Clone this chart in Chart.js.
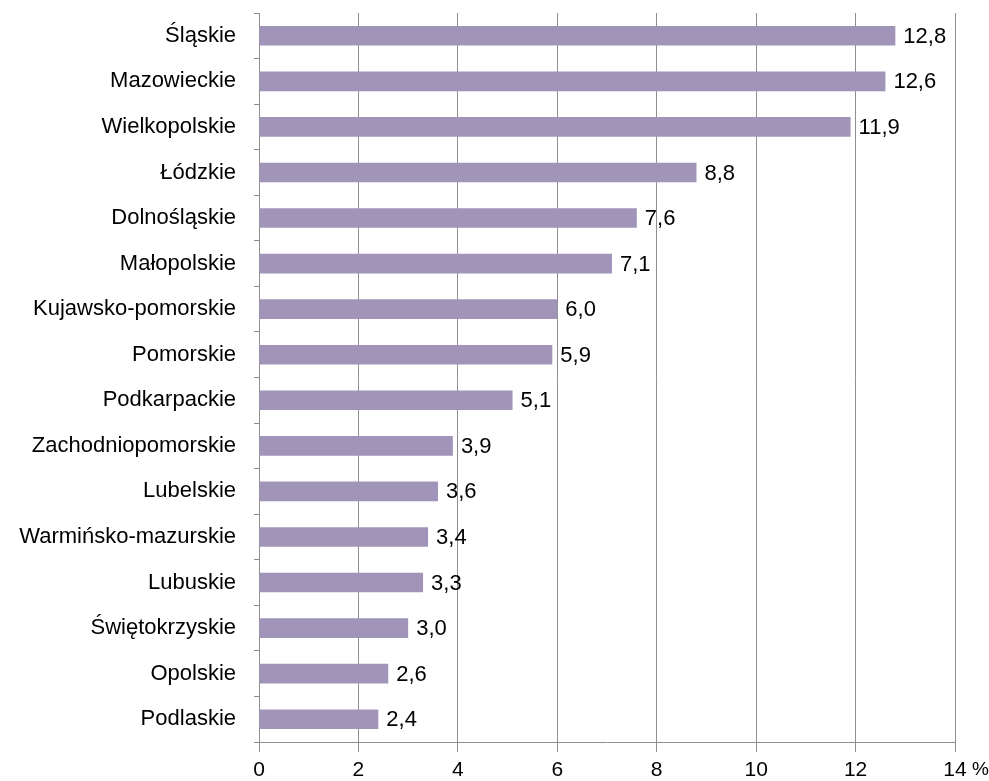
<!DOCTYPE html>
<html>
<head>
<meta charset="utf-8">
<script src="https://cdn.jsdelivr.net/npm/chart.js@4/dist/chart.umd.min.js"></script>
<style>
  html, body { margin: 0; padding: 0; background: #fff; }
  #wrap { width: 989px; height: 781px; }
</style>
</head>
<body>
<div id="wrap"><canvas id="grafico" width="989" height="781"></canvas></div>
<script>
const wojewodztwa = [
  "Śląskie", "Mazowieckie", "Wielkopolskie", "Łódzkie", "Dolnośląskie",
  "Małopolskie", "Kujawsko-pomorskie", "Pomorskie", "Podkarpackie",
  "Zachodniopomorskie", "Lubelskie", "Warmińsko-mazurskie", "Lubuskie",
  "Świętokrzyskie", "Opolskie", "Podlaskie"
];
const udzialy = [12.8, 12.6, 11.9, 8.8, 7.6, 7.1, 6.0, 5.9, 5.1, 3.9, 3.6, 3.4, 3.3, 3.0, 2.6, 2.4];
const osX = { min: 0, max: 14, krok: 2, jednostka: "%" };

const kolorSlupka = "#a095b9";
const kolorSiatki = "#8f8f8f";
const czcionka = "'Liberation Sans', Arial, sans-serif";

// etykiety wartosci po prawej stronie slupkow
const etykietyWartosci = {
  id: "etykietyWartosci",
  afterDatasetsDraw(chart) {
    const ctx = chart.ctx;
    const meta = chart.getDatasetMeta(0);
    ctx.save();
    ctx.font = "22px " + czcionka;
    ctx.fillStyle = "#000";
    ctx.textBaseline = "middle";
    ctx.textAlign = "left";
    meta.data.forEach((bar, i) => {
      const tekst = udzialy[i].toFixed(1).replace(".", ",");
      ctx.fillText(tekst, bar.x + 8, bar.y + 1);
    });
    ctx.restore();
  }
};

// znak % za ostatnia wartoscia osi
const jednostkaOsi = {
  id: "jednostkaOsi",
  afterDraw(chart) {
    const ctx = chart.ctx;
    const x = chart.scales.x;
    ctx.save();
    ctx.font = "19px " + czcionka;
    ctx.fillStyle = "#000";
    ctx.textBaseline = "middle";
    ctx.textAlign = "left";
    ctx.fillText(osX.jednostka, x.getPixelForValue(osX.max) + 17, 770);
    ctx.restore();
  }
};

new Chart(document.getElementById("grafico").getContext("2d"), {
  type: "bar",
  data: {
    labels: wojewodztwa,
    datasets: [{
      data: udzialy,
      backgroundColor: kolorSlupka,
      borderWidth: 0,
      barPercentage: 0.43,
      categoryPercentage: 1
    }]
  },
  options: {
    indexAxis: "y",
    responsive: false,
    animation: false,
    layout: { padding: { top: 13, right: 34, left: 0, bottom: 0 } },
    plugins: {
      legend: { display: false },
      tooltip: { enabled: false }
    },
    scales: {
      x: {
        min: osX.min,
        max: osX.max,
        afterFit(scale) {
          scale.height = 39;
          scale.paddingLeft = 0;
          scale.paddingRight = 0;
        },
        ticks: {
          stepSize: osX.krok,
          color: "#000",
          font: { family: czcionka, size: 21 },
          padding: 6
        },
        grid: {
          color: kolorSiatki,
          lineWidth: 1,
          tickLength: 10,
          drawTicks: true
        },
        border: { display: true, color: kolorSiatki }
      },
      y: {
        afterFit(scale) {
          scale.width = 259;
          scale.paddingTop = 0;
          scale.paddingBottom = 0;
        },
        ticks: {
          color: "#000",
          font: { family: czcionka, size: 22 },
          padding: 18
        },
        grid: {
          offset: true,
          drawOnChartArea: false,
          drawTicks: true,
          tickLength: 5,
          color: kolorSiatki
        },
        border: { display: true, color: kolorSiatki }
      }
    }
  },
  plugins: [etykietyWartosci, jednostkaOsi]
});
</script>
</body>
</html>
